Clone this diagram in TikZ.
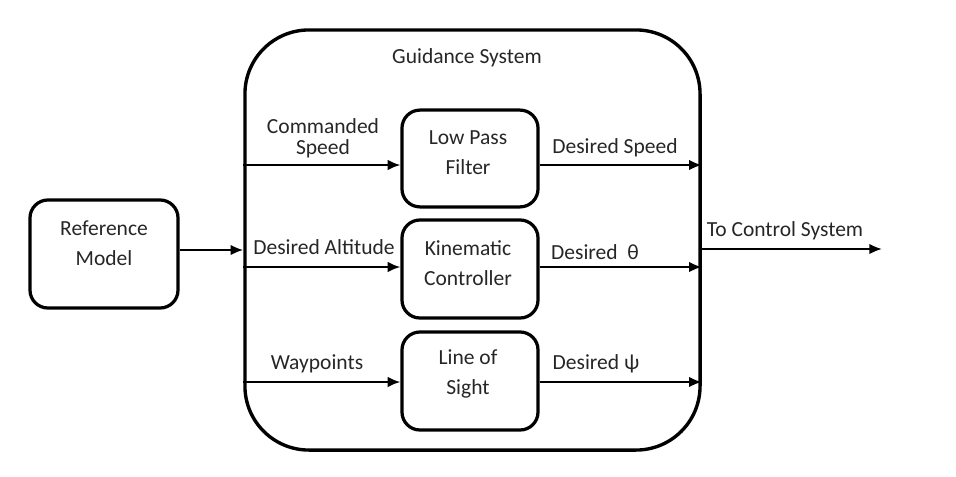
\documentclass[tikz,border=0pt]{standalone}
\usepackage{fontspec}
\setmainfont{Carlito}
\usetikzlibrary{arrows.meta}

\newcommand{\lblfont}{\fontsize{15.3pt}{15pt}\selectfont}
\newcommand{\boxfont}{\fontsize{15.3pt}{21.3pt}\selectfont}

\tikzset{
  block/.style={draw, line width=2.3pt, rounded corners=0.45cm,
    minimum width=3.4cm, minimum height=2.42cm},
  outer/.style={draw, line width=2.4pt, rounded corners=1.6cm,
    minimum width=11.375cm, minimum height=10.5cm},
  txt/.style={align=center, font=\boxfont, inner sep=0pt, text=black!85},
  lbl/.style={align=center, font=\lblfont, inner sep=0pt, text=black!85},
  sig/.style={->, line width=1.5pt},
}

\begin{document}
\begin{tikzpicture}[x=0.025cm, y=-0.025cm, >={Latex[length=9pt,width=7.5pt]}]
  \useasboundingbox (0,0) rectangle (956,476);
  % guidance system
  \node[outer] (guid) at (472.5,240) {};
  \node[lbl] (title) at (467,58) {Guidance System};
  % signal rows
  \coordinate (r1) at (0,165);
  \coordinate (r2) at (0,267);
  \coordinate (r3) at (0,382);
  \coordinate (out) at (882,249);
  % blocks
  \node[block, minimum width=3.7cm, minimum height=2.7cm] (ref) at (104,254) {};
  \node[txt] (ref-t) at (104,243) {Reference\\Model};
  \node[block, minimum height=2.42cm] (lpf) at (470,158.5) {};
  \node[txt] (lpf-t) at (468,153) {Low Pass\\Filter};
  \node[block, minimum height=2.45cm] (kin) at (470,269) {};
  \node[txt] (kin-t) at (468,263) {Kinematic\\Controller};
  \node[block, minimum height=2.45cm] (los) at (470,381) {};
  \node[txt] (los-t) at (468,374) {Line of\\Sight};
  % labels
  \node[lbl] (cmd) at (323,138) {Commanded\\Speed};
  \node[lbl] (alt) at (324,247) {Desired Altitude};
  \node[lbl] (wp) at (317,364) {Waypoints};
  \node[lbl] (dspd) at (615,148) {Desired Speed};
  \node[lbl] (dth) at (595,252) {Desired\ \ θ};
  \node[lbl] (dpsi) at (596,364) {Desired ψ};
  \node[lbl] (ctl) at (785,231) {To Control System};
  % connectors
  \draw[sig] (ref.east |- 0,250) -- (guid.west |- 0,250);
  \draw[sig] (guid.west |- r1) -- (lpf.west |- r1);
  \draw[sig] (guid.west |- r2) -- (kin.west |- r2);
  \draw[sig] (guid.west |- r3) -- (los.west |- r3);
  \draw[sig] (lpf.east |- r1) -- (guid.east |- r1);
  \draw[sig] (kin.east |- r2) -- (guid.east |- r2);
  \draw[sig] (los.east |- r3) -- (guid.east |- r3);
  \draw[sig] (guid.east |- out) -- (out);
\end{tikzpicture}
\end{document}
